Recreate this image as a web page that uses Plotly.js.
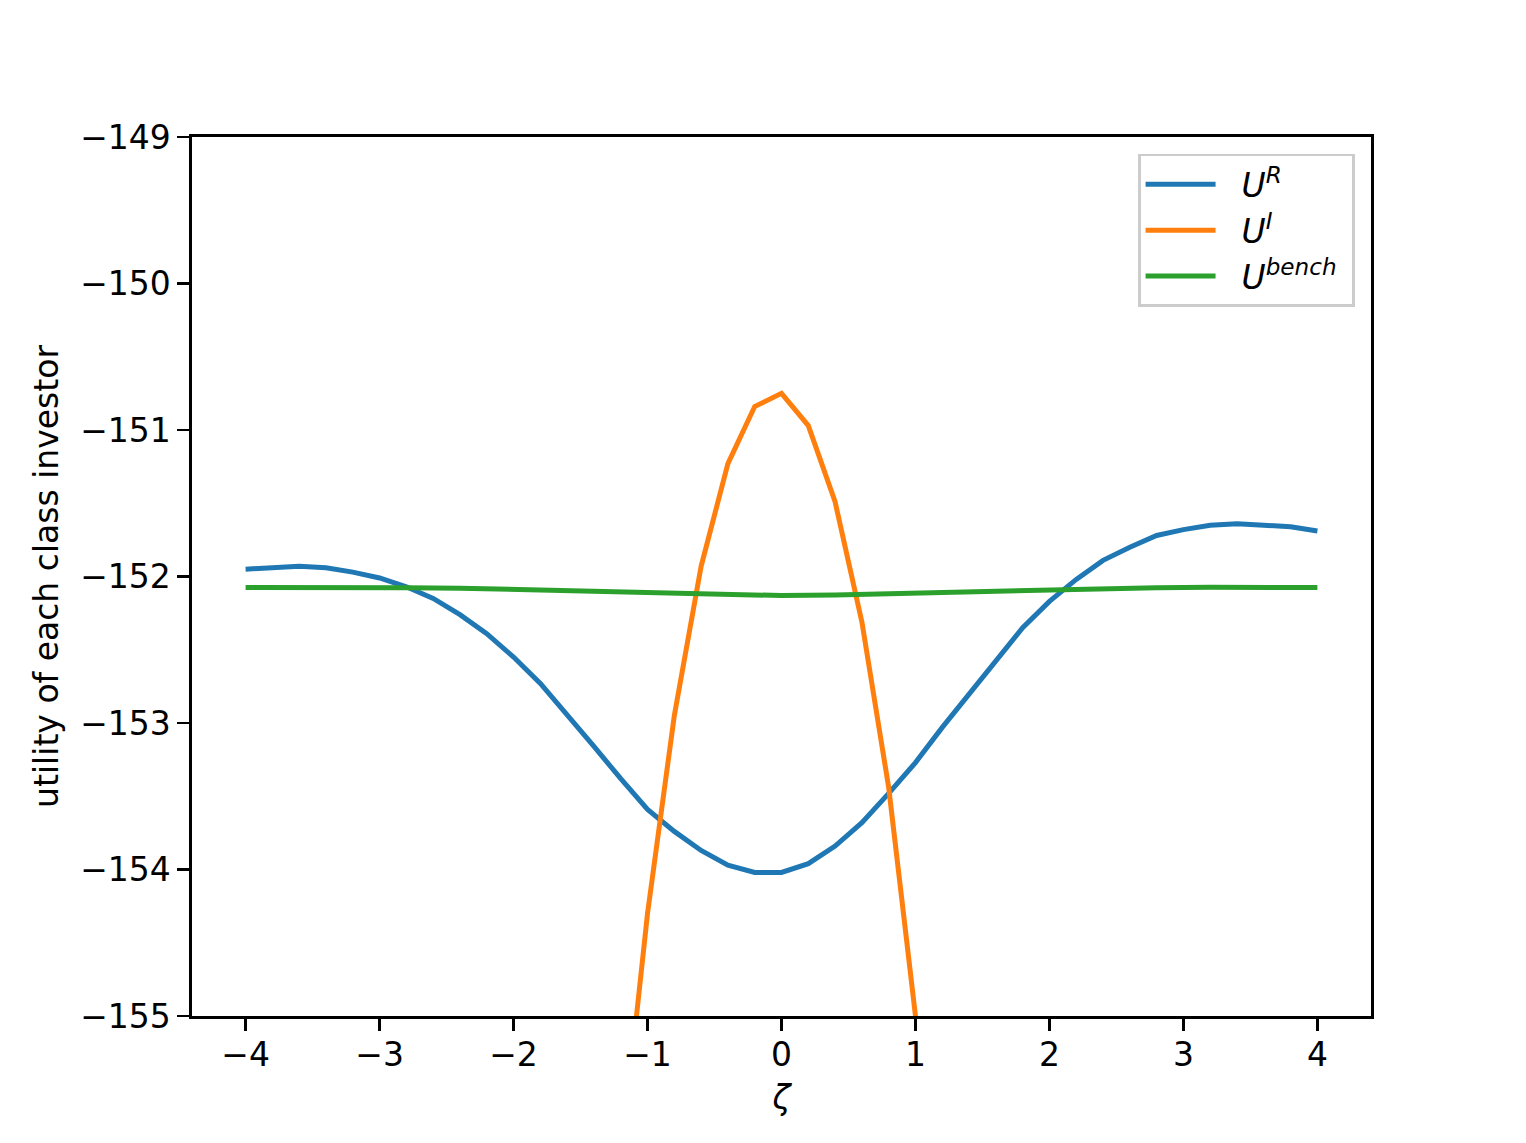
<!DOCTYPE html>
<html>
<head>
<meta charset="utf-8">
<script src="https://cdn.plot.ly/plotly-3.0.1.min.js"></script>
<style>html,body{margin:0;padding:0;background:#fff;}#chart{width:1526px;height:1143px;}</style>
</head>
<body>
<div id="chart"></div>
<script>
const zetaR = [-4,-3.8,-3.6,-3.4,-3.2,-3,-2.8,-2.6,-2.4,-2.2,-2,-1.8,-1.6,-1.4,-1.2,-1,-0.8,-0.6,-0.4,-0.2,0,0.2,0.4,0.6,0.8,1,1.2,1.4,1.6,1.8,2,2.2,2.4,2.6,2.8,3,3.2,3.4,3.6,3.8,4];
const uR = [-151.95,-151.94,-151.93,-151.94,-151.97,-152.01,-152.07,-152.15,-152.26,-152.39,-152.55,-152.73,-152.94,-153.16,-153.38,-153.59,-153.74,-153.87,-153.97,-154.02,-154.02,-153.96,-153.84,-153.68,-153.48,-153.27,-153.03,-152.80,-152.57,-152.35,-152.17,-152.02,-151.89,-151.80,-151.72,-151.68,-151.65,-151.64,-151.65,-151.66,-151.69];
const zetaI = [-1.2,-1,-0.8,-0.6,-0.4,-0.2,0,0.2,0.4,0.6,0.8,1,1.2];
const uI = [-156.0,-154.30,-152.95,-151.93,-151.23,-150.84,-150.75,-150.97,-151.49,-152.31,-153.44,-155.0,-157.0];
const zetaB = [-4,-3.6,-3.2,-2.8,-2.4,-2,-1.6,-1.2,-0.8,-0.4,0,0.4,0.8,1.2,1.6,2,2.4,2.8,3.2,3.6,4];
const uB = [-152.075,-152.073,-152.074,-152.076,-152.08,-152.088,-152.097,-152.108,-152.118,-152.126,-152.13,-152.126,-152.118,-152.108,-152.097,-152.088,-152.08,-152.076,-152.074,-152.073,-152.075];
const names = ['\u00A0\u00A0<i>U</i><sup><i>R</i></sup>','\u00A0\u00A0<i>U</i><sup><i>I</i></sup>','\u00A0\u00A0<i>U</i><sup><i>bench</i></sup>\u00A0'];
const colors = ['#1f77b4','#ff7f0e','#2ca02c'];

const traces = [
  {x: zetaR, y: uR, name: names[0], mode:'lines', line:{color:colors[0], width:5}},
  {x: zetaI, y: uI, name: names[1], mode:'lines', line:{color:colors[1], width:5}},
  {x: zetaB, y: uB, name: names[2], mode:'lines', line:{color:colors[2], width:5}}
];
const font = {family:'DejaVu Sans', size:33, color:'#000'};
const axisCommon = {
  showgrid:false, zeroline:false, showline:true, mirror:true, linecolor:'#000', linewidth:2.6,
  ticks:'outside', ticklen:12, tickwidth:2.6, tickcolor:'#000', tickfont:font
};
const layout = {
  width:1526, height:1143,
  paper_bgcolor:'#fff', plot_bgcolor:'#fff',
  margin:{l:192, r:155, t:137, b:127},
  font: font,
  showlegend:true,
  xaxis: Object.assign({}, axisCommon, {range:[-4.4,4.4], tickmode:'linear', tick0:-4, dtick:1,
    ticklabelstandoff:-4,
    title:{text:'<i>ζ</i>', font:font, standoff:13}}),
  yaxis: Object.assign({}, axisCommon, {range:[-155,-149], tickmode:'linear', tick0:-155, dtick:1,
    title:{text:'utility of each class investor', font:font, standoff:12}}),
  legend: {x:0.9864, y:0.981, xanchor:'right', yanchor:'top', bgcolor:'rgba(255,255,255,0.8)',
    bordercolor:'#cccccc', borderwidth:2.6, font:font, itemwidth:70, tracegroupgap:0}
};
Plotly.newPlot('chart', traces, layout, {displayModeBar:false, staticPlot:true});
</script>
</body>
</html>
